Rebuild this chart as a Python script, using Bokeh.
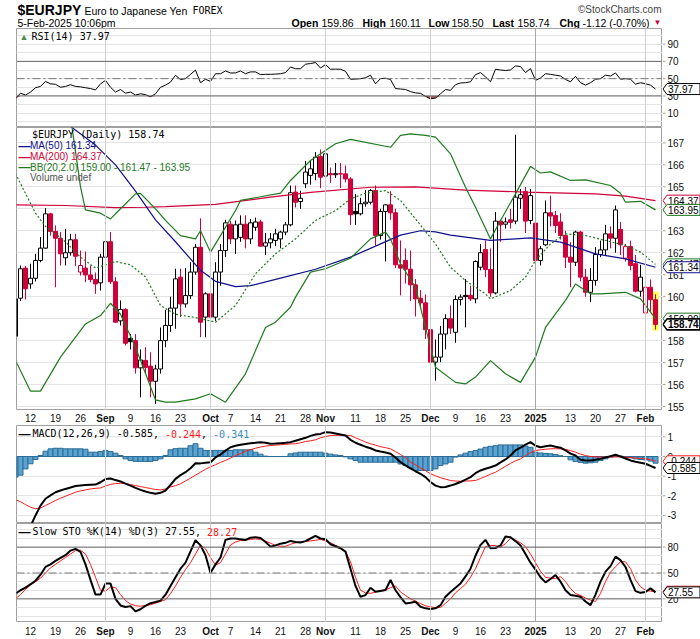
import numpy as np
from bokeh.plotting import figure
from bokeh.layouts import column, row
from bokeh.models import Range1d, ColumnDataSource, Label, FixedTicker, Span
from bokeh.core.properties import value, field
from bokeh.embed import file_html
from bokeh.resources import INLINE

# ---------------- data (trading days Aug 7 2024 .. Feb 5 2025) ----------------
open_ = [158.20,159.93,161.30,160.58,160.84,161.65,162.21,163.77,162.97,162.66,
         161.77,162.00,162.59,161.12,161.30,160.99,160.78,160.63,161.80,162.50,
         160.68,158.90,159.42,158.10,158.00,156.76,157.10,156.84,156.15,156.71,
         158.00,158.69,159.48,160.89,159.67,160.05,161.12,162.25,159.07,160.13,
         159.07,161.12,162.10,163.30,162.63,162.70,163.30,162.63,163.16,163.40,
         162.30,162.45,162.56,162.63,162.94,163.27,164.76,164.33,165.14,165.52,
         165.60,166.38,165.49,165.60,165.55,165.60,165.59,165.36,163.88,163.77,
         164.23,164.30,164.83,162.78,163.88,164.18,163.82,161.45,161.65,161.25,
         160.54,159.93,159.72,158.50,157.02,157.25,158.30,159.00,158.38,159.87,
         160.06,160.06,159.90,161.34,162.15,161.24,160.17,163.44,163.30,163.50,
         163.44,164.48,164.79,163.47,163.35,161.65,162.36,163.82,163.70,163.40,
         162.78,161.80,161.57,162.94,160.89,160.20,160.74,161.92,162.13,162.86,
         162.66,163.06,161.75,162.28,161.50,160.25,159.26,160.43,159.86]
high = [160.00,161.42,161.40,161.50,161.95,162.71,164.03,163.82,163.24,162.94,
        163.09,162.86,162.86,162.10,162.06,161.42,161.10,161.95,162.97,162.94,
        160.89,159.83,159.48,158.30,158.30,157.60,157.70,157.47,156.90,158.60,
        159.40,160.00,161.27,161.27,161.30,161.57,162.40,163.57,160.20,160.20,
        161.57,162.40,163.50,163.45,163.47,163.70,163.70,163.54,163.60,163.50,
        162.90,162.90,163.09,163.00,163.40,165.06,165.06,164.82,166.18,166.20,
        166.58,166.70,166.60,165.88,166.08,166.08,165.97,165.44,164.67,164.50,
        164.85,164.90,165.06,164.00,164.20,164.80,164.00,162.56,162.20,162.10,
        160.80,160.30,160.10,158.90,158.05,158.67,159.20,159.60,160.06,160.10,
        160.80,160.50,161.65,162.40,162.56,162.20,163.85,163.50,163.60,164.00,
        167.37,164.90,164.99,164.90,163.40,162.30,164.38,164.60,163.90,163.80,
        163.00,162.48,163.00,163.00,161.27,161.30,162.25,162.55,163.27,163.20,
        164.15,163.40,162.40,162.55,161.90,161.45,160.54,160.78,160.11]
low = [158.10,159.80,159.87,160.36,160.69,161.57,162.18,162.78,160.43,161.42,
       161.42,161.87,161.39,160.96,160.66,160.66,160.13,160.28,161.72,160.58,
       158.81,158.69,157.78,157.60,156.50,155.42,156.50,155.42,155.12,156.50,
       157.70,158.40,158.54,159.07,159.50,159.90,161.00,158.16,158.15,158.90,
       158.90,160.50,161.80,162.40,161.95,162.50,162.20,162.40,163.00,162.30,
       161.90,162.20,162.30,162.20,162.80,163.20,164.06,164.00,164.94,165.10,
       165.30,164.94,165.30,165.18,165.40,164.94,165.20,163.27,163.27,163.70,
       164.10,164.20,162.33,162.60,161.60,163.50,161.30,160.06,160.60,159.80,
       159.10,159.50,158.07,156.40,156.18,157.02,157.60,158.30,157.90,159.60,
       158.60,159.80,159.70,161.20,160.89,160.00,160.10,162.50,163.10,163.10,
       163.30,164.00,162.90,163.30,161.34,161.42,162.30,163.20,162.90,162.60,
       161.30,160.43,161.40,160.70,160.00,159.75,160.50,161.80,161.90,162.20,
       162.00,161.90,161.60,161.20,160.20,160.00,157.97,159.30,158.50]
close = [159.90,161.27,160.36,160.84,161.65,162.21,163.77,162.97,162.66,161.95,
         162.00,162.59,161.84,161.42,160.99,160.78,160.58,161.80,162.50,160.68,
         158.84,159.42,157.88,157.95,156.76,157.12,156.78,156.15,156.71,158.00,
         158.69,159.48,160.81,159.67,160.05,161.12,162.25,158.84,160.13,159.07,
         161.12,162.10,163.36,162.63,163.27,163.30,162.63,163.36,163.40,162.30,
         162.45,162.63,162.86,162.94,163.27,164.73,164.30,164.48,165.67,165.82,
         166.35,165.44,166.50,165.55,165.60,165.58,165.36,163.73,163.77,164.23,
         164.30,164.83,162.78,163.88,164.18,163.82,161.45,161.30,161.25,160.54,
         159.90,159.72,158.50,157.02,157.25,158.30,159.00,158.57,159.87,159.98,
         160.00,159.90,161.60,162.00,161.24,160.17,163.44,163.27,163.40,163.38,
         164.53,164.64,163.44,164.60,161.65,162.18,163.82,163.67,163.24,162.78,
         161.80,161.57,162.94,160.89,160.20,160.74,161.92,162.13,162.86,162.66,
         163.95,162.36,162.28,161.42,160.25,160.89,160.43,159.86,158.74]

rsi = [27,33.2,31,34.5,39.5,41,46.8,44,43.5,40,
       41,43,41,40.5,39.5,38.5,37,44,48,40,
       34.5,37.4,33.2,34.5,31,32.5,31.5,29.1,32.5,40,
       42.5,46,53.9,48.9,50,55,59.8,45.3,49.3,46.8,
       55.7,55.7,58.9,56.6,56.6,58.9,55.7,57.8,57.8,54.7,
       55,55,55.3,55.7,57,63.5,61.5,61.5,66.7,67.5,
       68.6,62.3,66.3,60.9,61,60.9,58.5,49.3,49.5,50,
       51,54,44,50,50.5,49,38.5,38,37.5,35,
       33.5,33,29.5,26.7,27.5,32.5,37.4,36.5,43,45,
       45.3,46.4,54.7,57,52,46.4,60.9,60,59.4,60.1,
       64.7,64,57,61.6,48,50.8,55.7,55,54,53.1,
       49,46.4,52.7,45.3,42.5,45.3,49.3,50,54,53,
       56.6,49.3,50,49.3,43.6,45.3,44,42.5,37.97]

macd = [-4.5,-4.2,-3.9,-3.55,-3.0,-2.5,-2.15,-1.98,-1.82,-1.73,
        -1.65,-1.58,-1.5,-1.47,-1.45,-1.44,-1.43,-1.31,-1.15,-1.12,
        -1.2,-1.27,-1.38,-1.48,-1.6,-1.7,-1.78,-1.85,-1.9,-1.85,
        -1.73,-1.45,-1.14,-0.95,-0.8,-0.6,-0.34,-0.35,-0.32,-0.29,
        -0.05,0.1,0.3,0.47,0.55,0.6,0.64,0.68,0.7,0.73,
        0.7,0.65,0.66,0.68,0.7,0.73,0.8,0.88,0.95,1.05,
        1.12,1.15,1.24,1.22,1.17,1.12,1.07,0.85,0.7,0.6,
        0.5,0.42,0.31,0.25,0.2,0.14,-0.05,-0.29,-0.45,-0.6,
        -0.75,-0.88,-1.05,-1.3,-1.48,-1.56,-1.55,-1.48,-1.4,-1.3,
        -1.18,-1.05,-0.85,-0.71,-0.62,-0.55,-0.46,-0.3,-0.15,0.05,
        0.31,0.45,0.6,0.73,0.55,0.47,0.52,0.56,0.5,0.45,
        0.31,0.15,0.05,-0.17,-0.2,-0.2,-0.17,-0.12,-0.05,0.02,
        0.09,0.0,-0.1,-0.2,-0.27,-0.32,-0.37,-0.48,-0.585]
signal = [-2.2,-2.3,-2.45,-2.58,-2.66,-2.62,-2.5,-2.37,-2.24,-2.12,
          -2.02,-1.92,-1.82,-1.75,-1.7,-1.65,-1.62,-1.6,-1.5,-1.42,
          -1.38,-1.36,-1.38,-1.43,-1.48,-1.53,-1.58,-1.63,-1.68,-1.7,
          -1.65,-1.55,-1.48,-1.39,-1.25,-1.1,-0.95,-0.8,-0.65,-0.52,
          -0.42,-0.3,-0.2,-0.08,0.05,0.15,0.27,0.35,0.42,0.48,
          0.53,0.56,0.58,0.6,0.62,0.64,0.65,0.7,0.76,0.8,
          0.85,0.95,1.02,1.07,1.08,1.08,1.08,1.07,0.95,0.85,
          0.73,0.65,0.58,0.5,0.45,0.39,0.25,0.1,-0.05,-0.29,
          -0.42,-0.58,-0.72,-0.88,-0.98,-1.08,-1.15,-1.22,-1.25,-1.26,
          -1.25,-1.24,-1.22,-1.12,-1.02,-0.9,-0.8,-0.65,-0.5,-0.35,
          -0.22,-0.12,0.05,0.2,0.31,0.34,0.37,0.39,0.4,0.39,
          0.36,0.3,0.22,0.12,0.05,0.0,-0.02,-0.03,-0.03,-0.03,
          -0.02,-0.02,-0.03,-0.05,-0.08,-0.1,-0.12,-0.16,-0.244]
hist = [-1.05,-0.95,-0.63,-0.37,-0.15,0.05,0.27,0.39,0.42,0.42,
        0.39,0.39,0.39,0.39,0.37,0.22,0.22,0.25,0.31,0.25,
        0.17,0.05,-0.12,-0.2,-0.25,-0.25,-0.25,-0.25,-0.2,-0.12,
        0.05,0.34,0.4,0.42,0.42,0.55,0.65,0.42,0.31,0.3,
        0.31,0.31,0.31,0.31,0.34,0.34,0.34,0.34,0.22,0.12,
        0.02,0.0,0.0,0.0,0.0,0.14,0.18,0.22,0.22,0.22,
        0.22,0.22,0.17,0.12,0.08,0.05,-0.02,-0.12,-0.2,-0.29,
        -0.29,-0.29,-0.29,-0.29,-0.29,-0.29,-0.29,-0.38,-0.46,-0.58,
        -0.71,-0.71,-0.71,-0.71,-0.63,-0.46,-0.38,-0.29,-0.03,0.08,
        0.17,0.25,0.3,0.38,0.47,0.52,0.55,0.59,0.59,0.59,
        0.59,0.59,0.53,0.47,0.22,0.18,0.16,0.14,0.1,0.04,
        0.0,-0.17,-0.25,-0.3,-0.34,-0.32,-0.29,-0.2,-0.12,-0.03,
        0.05,0.02,-0.05,-0.07,-0.12,-0.15,-0.17,-0.23,-0.341]

sto_k = [26,30,33,37,41,48,57,60,64,67.5,
         70.6,76,78,74.4,60,42,25,25,37.7,37.7,
         20,12.4,10.5,11.6,5.5,8,12,15,16.4,18,
         24.9,35,45,55,62,75,88,82,70.6,50.4,
         60,68,88.4,90,90,89,88.4,91,91.5,90.5,
         86,80.6,82,84,85,87.2,86,85.3,87,90,
         93,90,89.1,83.3,81,78.7,74.8,55,35,22.4,
         24.4,32.9,28.2,29,30.2,41.9,30,22,14.7,15.5,
         16.6,10.8,9,8.1,9,12.7,22.4,28,33,37.9,
         46,55,70,82.5,88.4,78.7,79,82,92.3,91.5,
         87,82,72,62,54,45,39.1,43,47.6,40,
         30,24.4,23.5,22.4,17,12.7,25,40,51.5,58,
         69,65,57,42,29,27,28,32.2,27.55]
sto_d = [20,25,31,36,40,44,50,56,60,64,
         68,72,76,76.4,72,60,45,30,29,33.7,
         33,25,18,14,12,11.5,12.4,13.2,15,17,
         19,26,35,45,54,62,72,82.5,78,68,
         59,62,72,82.5,86,87.6,88,89,89.5,89,
         87,84.5,82,81,81,83.3,85,86,86.5,87.2,
         88,89,87.2,85,82,79.5,75,63,45,30,
         27,26.3,28,30,30.2,33,35,28,24,20,
         17.4,14.5,12,10.8,9.7,10,14.7,20,27,32,
         37,45,55,68,80.6,82,81.8,80,84,90.3,
         88,85,80.6,72,62,52,45,43.9,43.5,45.8,
         40,32,26.3,24,21,18.6,17,26.3,40,51,
         57.3,63,63,55,42,34.1,30,29,28.27]

# overlay lines read at sampled trading days
ma200_day = [0,10,20,26,30,40,51,59,71,80,90,102,116,122,128]
ma200_val = [164.18,164.15,164.05,164.07,164.1,164.2,164.53,164.75,164.98,165.0,164.85,164.76,164.68,164.58,164.37]
ma50_day = [8,11,16,20,24,28,32,37,40,44,47,54,60,67,72,77,81,84,87,95,103,109,116,122,128]
ma50_val = [168.3,167.75,166.9,166.0,164.8,163.5,162.5,161.2,160.7,160.46,160.5,160.9,161.25,161.8,162.3,162.8,163.0,162.95,162.8,162.56,162.68,162.48,161.95,161.72,161.34]
bbu_day = [10,11,12,13,14,17,19,21,24,25,28,30,33,36,37,39,41,44,45,53,55,59,64,67,75,77,79,82,84,87,90,92,95,97,100,103,105,107,111,114,119,121,122,125,128]
bbu_val = [169.5,168.2,166.6,165.0,163.95,163.8,163.54,164.0,164.68,164.7,164.0,163.47,162.78,162.63,163.0,162.03,162.78,163.92,164.38,164.71,165.29,166.2,166.96,167.16,166.8,167.34,167.41,167.34,167.26,166.5,164.98,164.07,162.63,163.47,164.68,165.93,165.63,165.68,165.29,165.32,165.06,164.71,164.3,164.34,163.95]
bbl_day = [0,3,5,9,14,17,19,21,24,26,28,30,32,36,39,42,46,50,52,55,56,59,62,67,71,74,75,77,80,82,84,88,90,92,95,98,101,104,106,110,112,115,117,122,125,128]
bbl_val = [157.1,155.7,155.7,157.25,158.76,159.14,159.7,159.2,157.7,156.5,155.3,155.2,155.2,155.35,155.58,155.2,156.49,158.6,158.84,159.52,159.98,161.12,161.27,161.75,162.63,162.94,162.63,161.5,160.43,158.6,156.79,156.1,156.03,156.34,157.09,156.49,156.1,157.25,158.6,159.83,160.58,160.13,160.13,160.2,159.9,159.0]
bbm_day = [0,4,6,10,13,16,20,23,26,29,32,36,40,44,48,52,56,60,64,67,70,74,77,80,84,87,90,94,95,99,102,104,107,110,114,118,122,125,128]
bbm_val = [165.6,163.8,163.2,162.5,161.8,161.3,161.6,161.45,160.9,159.6,159.2,159.05,158.84,159.6,161.04,161.95,162.63,163.47,163.92,164.45,164.71,164.83,164.38,163.54,162.4,161.34,160.73,160.13,159.9,160.28,160.89,161.65,162.4,162.86,162.78,162.56,162.33,162.03,161.47]

tick_days = [3,8,13,18,23,28,33,39,43,48,53,58,62,68,73,78,83,88,93,98,104,111,116,121,126]
tick_labels = ["12","19","26","Sep","9","16","23","Oct","7","14","21","28","Nov","11","18","25","Dec","9","16","23","2025","13","20","27","Feb"]
month_days = [18,39,62,83,104,126]

# ---------------- styling / layout ----------------
SANS = "Liberation Sans"
MONO = "DejaVu Sans Mono"
RED = "#d0003a"
GREEN = "#1f7a1f"
NAVY = "#10108c"
FW = 646
SW = 38
X0, X1 = 0.2, 129.4
xr = Range1d(X0, X1)
N = len(close)
days = list(range(N))


def fx(px):
    return X0 + px * (X1 - X0) / FW


def panel(fh, y0, y1, gridticks):
    p = figure(frame_width=FW, frame_height=fh, x_range=xr, y_range=Range1d(y0, y1),
               toolbar_location=None, output_backend="svg",
               x_axis_location=None, y_axis_location=None,
               min_border_left=16, min_border_right=0, min_border_top=0, min_border_bottom=0,
               background_fill_color="white", border_fill_color="white")
    p.outline_line_color = "#a0a0a0"
    p.xgrid.visible = False
    p.ygrid.ticker = FixedTicker(ticks=gridticks)
    p.ygrid.grid_line_color = "#e4e4e4"
    for m in month_days:
        col = "#a8a8a8" if m == 104 else "#cfcfcf"
        p.add_layout(Span(location=m, dimension="height", line_color=col, line_width=1))
    return p


def side(fh, yrange, yticks):
    s = figure(frame_width=SW, frame_height=fh, x_range=Range1d(0, SW), y_range=yrange,
               toolbar_location=None, output_backend="svg",
               x_axis_location=None, y_axis_location=None,
               min_border_left=0, min_border_right=0, min_border_top=0, min_border_bottom=0)
    s.outline_line_color = None
    s.grid.visible = False
    n = len(yticks)
    s.segment(x0=[0] * n, y0=yticks, x1=[3] * n, y1=yticks, line_color="#a0a0a0")
    s.text(x=[5] * n, y=yticks, text=[str(t) for t in yticks], text_font=value(SANS),
           text_font_size=value("10px"), text_color="#111111", text_baseline="middle",
           text_align="left")
    return s


def tag(s, fh, yv, text, color, bold=False):
    y0, y1 = s.y_range.start, s.y_range.end
    h = 5.5 * (y1 - y0) / fh
    s.patch(x=[0.5, 4.5, 37.5, 37.5, 4.5], y=[yv, yv + h, yv + h, yv - h, yv - h],
            fill_color="white", line_color=color, line_width=1.6 if bold else 1)
    s.text(x=[5.5], y=[yv], text=[text], text_font=value(SANS), text_font_size=value("10px"),
           text_font_style="bold" if bold else "normal", text_color="black",
           text_baseline="middle", text_align="left")


def lab(p, fh, px, py, text, color="black", font=SANS, size="10px", style="normal"):
    y0, y1 = p.y_range.start, p.y_range.end
    p.add_layout(Label(x=fx(px), y=y1 - py * (y1 - y0) / fh, text=text, text_color=color,
                       text_font=font, text_font_size=size, text_font_style=style,
                       text_baseline="middle", text_align="left"))


def hline(p, yv, color="#666666", dash="solid"):
    p.add_layout(Span(location=yv, dimension="width", line_color=color, line_width=1, line_dash=dash))


def strip(fh, right):
    s = figure(frame_width=FW, frame_height=fh, x_range=xr, y_range=Range1d(0, 1),
               toolbar_location=None, output_backend="svg",
               x_axis_location=None, y_axis_location=None,
               min_border_left=16, min_border_right=right, min_border_top=0, min_border_bottom=0)
    s.outline_line_color = None
    s.grid.visible = False
    styles = ["bold" if (not t.isdigit() or len(t) == 4) else "normal" for t in tick_labels]
    src = ColumnDataSource(dict(x=tick_days, y=[0.5] * len(tick_days), t=tick_labels, fs=styles))
    s.text(x="x", y="y", text="t", text_font_style=field("fs"), text_font=value(SANS),
           text_font_size=value("10px"), text_align="center", text_baseline="middle",
           text_color="#111111", source=src)
    return s


# ---------------- header (frame aligned with the panels; x in page pixels) ----------------
hdr = figure(frame_width=FW, frame_height=28, x_range=Range1d(16, 16 + FW), y_range=Range1d(28, 0),
             toolbar_location=None, output_backend="svg", x_axis_location=None,
             y_axis_location=None, min_border_left=16, min_border_right=SW,
             min_border_top=0, min_border_bottom=0)
hdr.outline_line_color = None
hdr.grid.visible = False


def htext(x, y, t, font, size, style="normal", color="black", align="left"):
    hdr.text(x=[x], y=[y], text=[t], text_font=value(font), text_font_size=value(size),
             text_font_style=style, text_color=color, text_align=align, text_baseline="middle")


htext(17, 9, "$EURJPY", SANS, "14px", "bold")
htext(84, 10, "Euro to Japanese Yen", SANS, "10.5px")
htext(192, 10, "FOREX", MONO, "10px")
htext(661, 9, "\u00a9StockCharts.com", SANS, "10px", color="#444444", align="right")
htext(17, 22, "5-Feb-2025 10:06pm", SANS, "10.5px")
for x, t, st in [(291, "Open", "bold"), (321, "159.86", "normal"), (362, "High", "bold"),
                 (389, "160.11", "normal"), (428, "Low", "bold"), (451, "158.50", "normal"),
                 (492, "Last", "bold"), (517, "158.74", "normal"), (559, "Chg", "bold"),
                 (582, "-1.12 (-0.70%)", "normal")]:
    htext(x, 22, t, SANS, "10.5px", st)
htext(653, 22, "\u25bc", SANS, "8px", color=RED)

# ---------------- RSI ----------------
RH = 99
p_rsi = panel(RH, -6.5, 108, list(range(0, 101, 10)))
hline(p_rsi, 70)
hline(p_rsi, 30)
hline(p_rsi, 50, "#777777", "8 3 2 3")
p_rsi.varea(x=days, y1=[30] * N, y2=list(np.minimum(np.array(rsi), 30)), fill_color="#b0565b")
p_rsi.line(days, rsi, color="black", line_width=1)
lab(p_rsi, RH, 3, 8, "\u25b2", "#4d8a4d", size="9px")
lab(p_rsi, RH, 15, 8, "RSI(14) 37.97", font=MONO, size="10px")
s_rsi = side(RH, p_rsi.y_range, [10, 30, 50, 70, 90])
tag(s_rsi, RH, rsi[-1], "37.97", "black")

# ---------------- price ----------------
PH = 283
XH = 15
PY0, PY1 = 154.82, 167.70
p_px = panel(PH, PY0, PY1, list(range(155, 168)))
cols, fills, tops, bots = [], [], [], []
for i in range(N):
    up = True if i == 0 else close[i] >= close[i - 1]
    c = "black" if up else RED
    cols.append(c)
    fills.append("white" if close[i] > open_[i] else c)
    tops.append(max(open_[i], close[i]))
    bots.append(min(open_[i], close[i]))
src = ColumnDataSource(dict(x=days, h=high, l=low, top=tops, bot=bots, col=cols, fill=fills))
p_px.quad(left=[days[-1] - 0.65], right=[days[-1] + 0.65], top=[high[-1] + 0.12],
          bottom=[low[-1] - 0.05], fill_color="#ffff55", line_color=None)
p_px.segment(x0="x", y0="l", x1="x", y1="h", line_color="col", line_width=1, source=src)
p_px.vbar(x="x", width=0.8, top="top", bottom="bot", fill_color="fill", line_color="col",
          line_width=1, source=src)
p_px.line(ma200_day, ma200_val, color=RED, line_width=1.2)
p_px.line(ma50_day, ma50_val, color=NAVY, line_width=1.2)
p_px.line(bbu_day, bbu_val, color=GREEN, line_width=1.2)
p_px.line(bbl_day, bbl_val, color=GREEN, line_width=1.2)
p_px.line(bbm_day, bbm_val, color=GREEN, line_width=1.2, line_dash="2 2")
lab(p_px, PH, 15.5, 7.3, "$EURJPY (Daily) 158.74", font=MONO, size="10px")
lab(p_px, PH, 2, 18, "\u2014", NAVY, size="12px", style="bold")
lab(p_px, PH, 13.5, 18, "MA(50) 161.34", NAVY)
lab(p_px, PH, 2, 29, "\u2014", RED, size="12px", style="bold")
lab(p_px, PH, 13.5, 29, "MA(200) 164.37", RED)
lab(p_px, PH, 2, 39.7, "\u2014", GREEN, size="12px", style="bold")
lab(p_px, PH, 13.5, 39.7, "BB(20,2.0) 159.00 - 161.47 - 163.95", GREEN)
lab(p_px, PH, 13.5, 50.3, "Volume undef", "#555555")
side_range = Range1d(PY0 - XH * (PY1 - PY0) / PH, PY1)
s_px = side(PH + XH, side_range, list(range(155, 168)))
tag(s_px, PH + XH, 164.37, "164.37", RED)
tag(s_px, PH + XH, 163.95, "163.95", GREEN)
tag(s_px, PH + XH, 161.47, "161.47", GREEN)
tag(s_px, PH + XH, 161.34, "161.34", NAVY)
tag(s_px, PH + XH, 159.00, "159.00", GREEN)
tag(s_px, PH + XH, close[-1], "158.74", "black", bold=True)

ax1 = strip(XH, 0)

# ---------------- MACD ----------------
MH = 98
p_macd = panel(MH, -3.41, 1.578, [1, 0, -1, -2, -3])
p_macd.vbar(x=days, width=1.0, top=hist, bottom=0, fill_color="#5aa2cf", line_color="#2b6d96")
p_macd.line(days, signal, color="#ff1a1a", line_width=1)
p_macd.line(days, macd, color="black", line_width=2)
W = 6.02
lab(p_macd, MH, 2, 8, "\u2014", "black", size="12px", style="bold")
lab(p_macd, MH, 16, 8, "MACD(12,26,9) -0.585", font=MONO)
lab(p_macd, MH, 16 + 20 * W, 8, ",", font=MONO)
lab(p_macd, MH, 16 + 22 * W, 8, "-0.244", "#ff1a1a", font=MONO)
lab(p_macd, MH, 16 + 28 * W, 8, ",", font=MONO)
lab(p_macd, MH, 16 + 30 * W, 8, "-0.341", "#3a8cc0", font=MONO)
s_macd = side(MH, p_macd.y_range, [1, 0, -1, -2, -3])
tag(s_macd, MH, signal[-1], "-0.244", "#ff1a1a")
tag(s_macd, MH, macd[-1], "-0.585", "black")

# ---------------- Slow STO ----------------
SH = 99
p_sto = panel(SH, -7.4, 107.4, list(range(0, 101, 10)))
hline(p_sto, 80)
hline(p_sto, 20)
hline(p_sto, 50, "#777777", "8 3 2 3")
p_sto.line(days, sto_d, color="#ff1a1a", line_width=1)
p_sto.line(days, sto_k, color="black", line_width=2)
lab(p_sto, SH, 2, 8, "\u2014", "black", size="12px", style="bold")
lab(p_sto, SH, 16, 8, "Slow STO %K(14) %D(3) 27.55", font=MONO)
lab(p_sto, SH, 16 + 27 * W, 8, ",", font=MONO)
lab(p_sto, SH, 16 + 29 * W, 8, "28.27", "#ff1a1a", font=MONO)
s_sto = side(SH, p_sto.y_range, [20, 50, 80])
tag(s_sto, SH, sto_d[-1], "28.27", "#ff1a1a")
tag(s_sto, SH, sto_k[-1], "27.55", "black")

ax2 = strip(17, SW)

layout = column(hdr,
                row(p_rsi, s_rsi, spacing=0),
                row(column(p_px, ax1, spacing=0), s_px, spacing=0),
                row(p_macd, s_macd, spacing=0),
                row(p_sto, s_sto, spacing=0),
                ax2, spacing=0)
open("out.html", "w").write(file_html(layout, INLINE))
